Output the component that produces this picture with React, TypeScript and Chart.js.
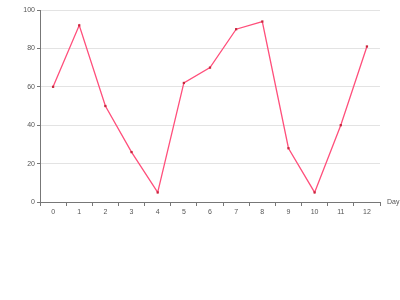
import React, { useEffect, useRef } from "react";
import { Chart, registerables } from "chart.js";

Chart.register(...registerables);

const days = ["0", "1", "2", "3", "4", "5", "6", "7", "8", "9", "10", "11", "12"];
const values = [60, 92, 50, 26, 5, 62, 70, 90, 94, 28, 5, 40, 81];
const yTicks = [0, 20, 40, 60, 80, 100];
const xTitle = "Day";

const FONT = "'Liberation Sans', Arial, sans-serif";

export default function App() {
  const ref = useRef<HTMLCanvasElement>(null);
  useEffect(() => {
    document.body.style.margin = "0";
    const titlePlugin = {
      id: "dayTitle",
      afterDraw(chart: any) {
        const { ctx, chartArea, scales } = chart;
        ctx.save();
        ctx.font = `7px ${FONT}`;
        ctx.fillStyle = "#555";
        ctx.textAlign = "left";
        ctx.textBaseline = "middle";
        ctx.fillText(xTitle, chartArea.right + 7, scales.y.getPixelForValue(0));
        ctx.restore();
      },
    };
    const chart = new Chart(ref.current!, {
      type: "line",
      data: {
        labels: days,
        datasets: [
          {
            data: values,
            borderColor: "#ff4f7b",
            borderWidth: 1.3,
            backgroundColor: "#c8273d",
            pointBackgroundColor: "#c8273d",
            pointBorderColor: "#c8273d",
            pointStyle: "rect",
            pointRadius: 1.6,
            pointBorderWidth: 0,
            tension: 0,
            fill: false,
          },
        ],
      },
      options: {
        animation: false,
        responsive: false,
        layout: { padding: { top: 10, right: 20, bottom: 0, left: 0 } },
        plugins: { legend: { display: false }, tooltip: { enabled: false } },
        scales: {
          x: {
            offset: true,
            grid: {
              offset: true,
              drawOnChartArea: false,
              tickLength: 4,
              tickColor: "#777",
            },
            border: { color: "#777", width: 1 },
            ticks: { color: "#555", font: { family: FONT, size: 7 }, padding: 2, maxRotation: 0 },
            afterFit(scale: any) {
              scale.height = 98;
            },
          },
          y: {
            min: 0,
            max: 100,
            afterBuildTicks(scale: any) {
              scale.ticks = yTicks.map((v) => ({ value: v }));
            },
            grid: { color: "#e3e3e3", tickLength: 3, tickColor: "#777" },
            border: { color: "#777", width: 1 },
            ticks: { color: "#555", font: { family: FONT, size: 7 }, padding: 2 },
            afterFit(scale: any) {
              scale.width = 40;
            },
          },
        },
      },
      plugins: [titlePlugin],
    });
    return () => chart.destroy();
  }, []);
  return <canvas ref={ref} width={400} height={300} style={{ display: "block" }} />;
}
